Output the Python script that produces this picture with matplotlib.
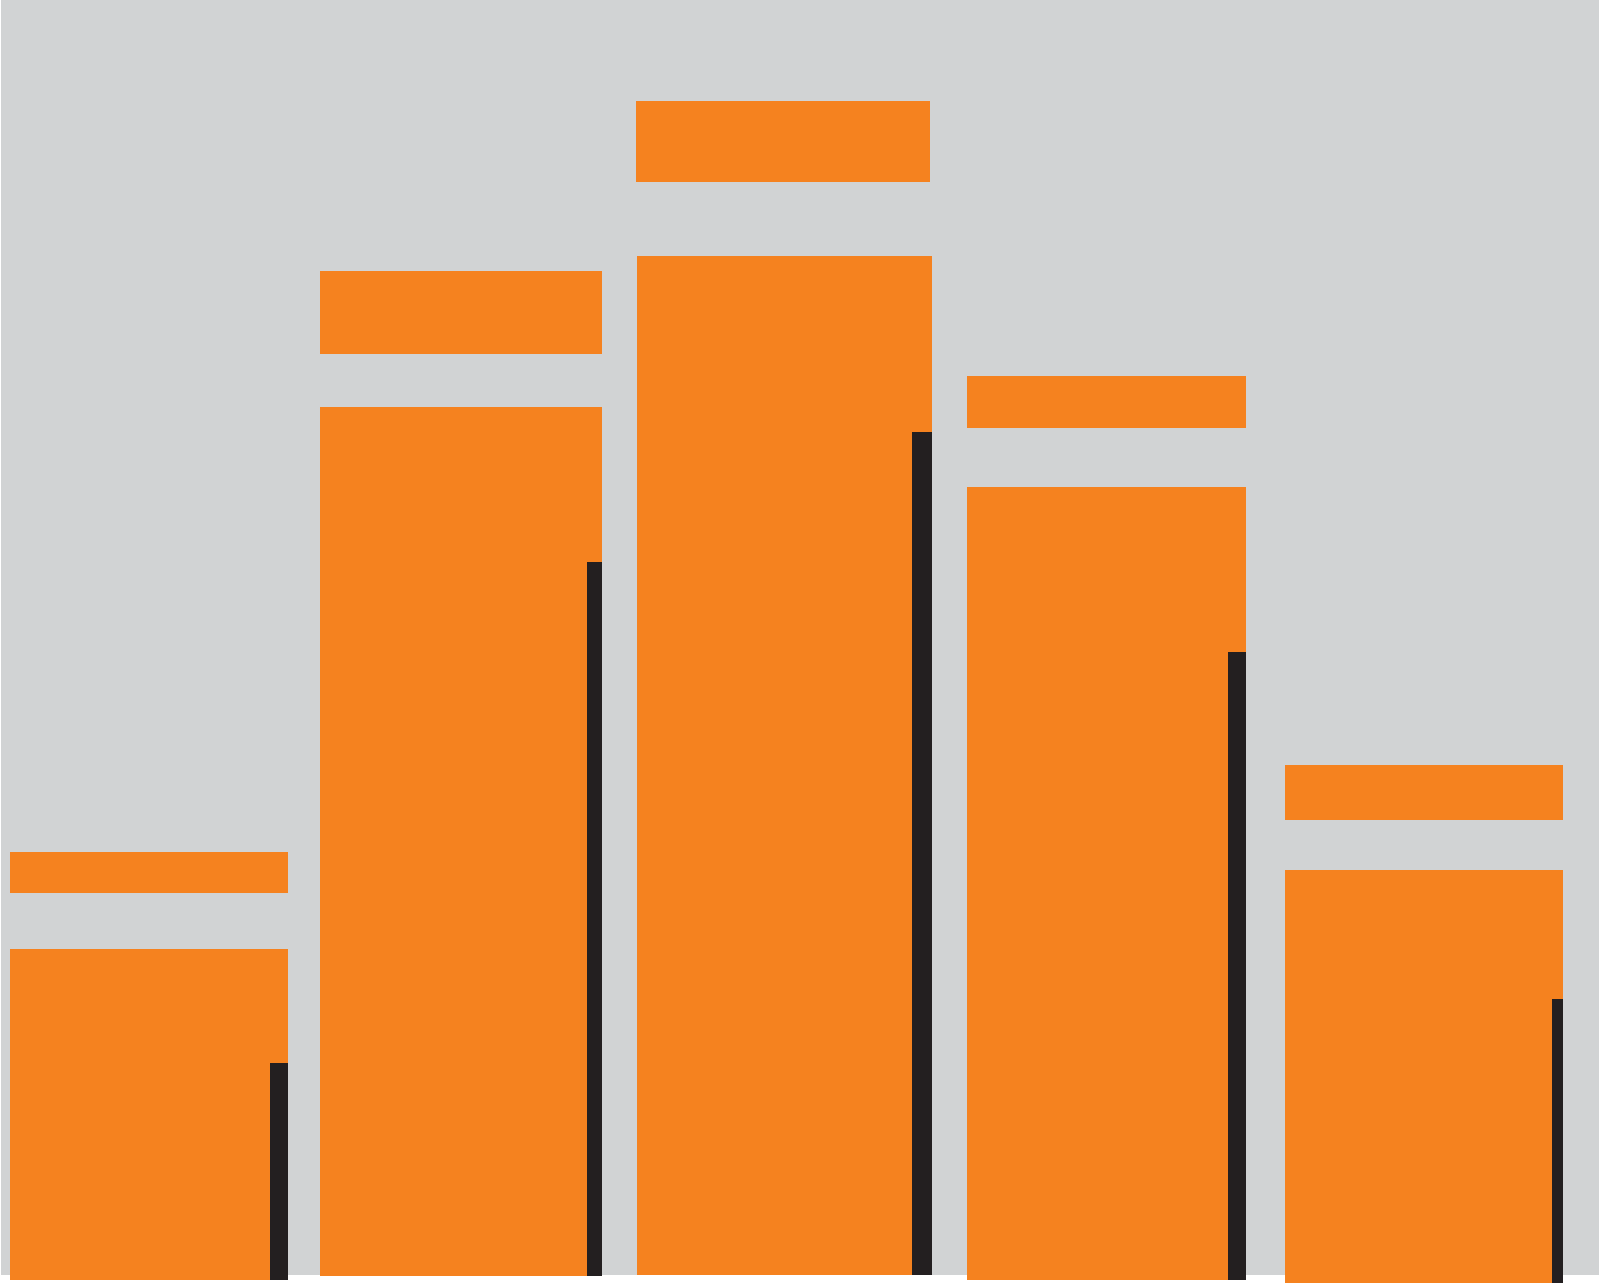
#!/usr/bin/python3

# Orange bar chart with floating caps and dark side strips

import matplotlib
matplotlib.use('Agg')
import matplotlib.pyplot as plt
from matplotlib.patches import Rectangle

# Values (arbitrary units, baseline 0)
bars = ['A', 'B', 'C', 'D', 'E']
bar_values = [326, 868, 1019, 788, 405]
bar_base = [-5, -1, 0, -5, -8]
cap_low = [382, 921, 1093, 847, 455]
cap_high = [423, 1004, 1174, 899, 510]
strip_values = [212, 713, 843, 623, 276]

# Layout
bar_left = [10, 320, 637.3, 967.3, 1285]
bar_width = [278.3, 281.7, 294.7, 278.7, 278.3]
cap_shift = [0, 0, -1.6, 0, 0]
strip_width = [18.3, 14.4, 20, 17.7, 11]

orange = '#F5821F'
dark = '#231F20'
grey = '#D1D3D4'

fig = plt.figure(figsize=(16, 12.83), dpi=100)
fig.patch.set_facecolor('white')
ax = fig.add_axes([0, 0, 1, 1])
ax.set_xlim(0, 1600)
ax.set_ylim(-8, 1275)
ax.axis('off')

# Grey panel
ax.add_patch(Rectangle((1, 0), 1598, 1275, facecolor=grey, edgecolor='none', zorder=0))

heights = [v - b for v, b in zip(bar_values, bar_base)]
ax.bar(bar_left, heights, width=bar_width, bottom=bar_base, align='edge',
       color=orange, edgecolor='none', zorder=2)

# Floating caps
cap_left = [l + s for l, s in zip(bar_left, cap_shift)]
ax.bar(cap_left, [h - l for h, l in zip(cap_high, cap_low)], width=bar_width,
       bottom=cap_low, align='edge', color=orange, edgecolor='none', zorder=2)

# Dark strips on the right side of each bar
strip_left = [l + w - s for l, w, s in zip(bar_left, bar_width, strip_width)]
ax.bar(strip_left, [v - b for v, b in zip(strip_values, bar_base)], width=strip_width,
       bottom=bar_base, align='edge', color=dark, edgecolor='none', zorder=3)

fig.savefig('out.png', dpi=100, facecolor='white')
